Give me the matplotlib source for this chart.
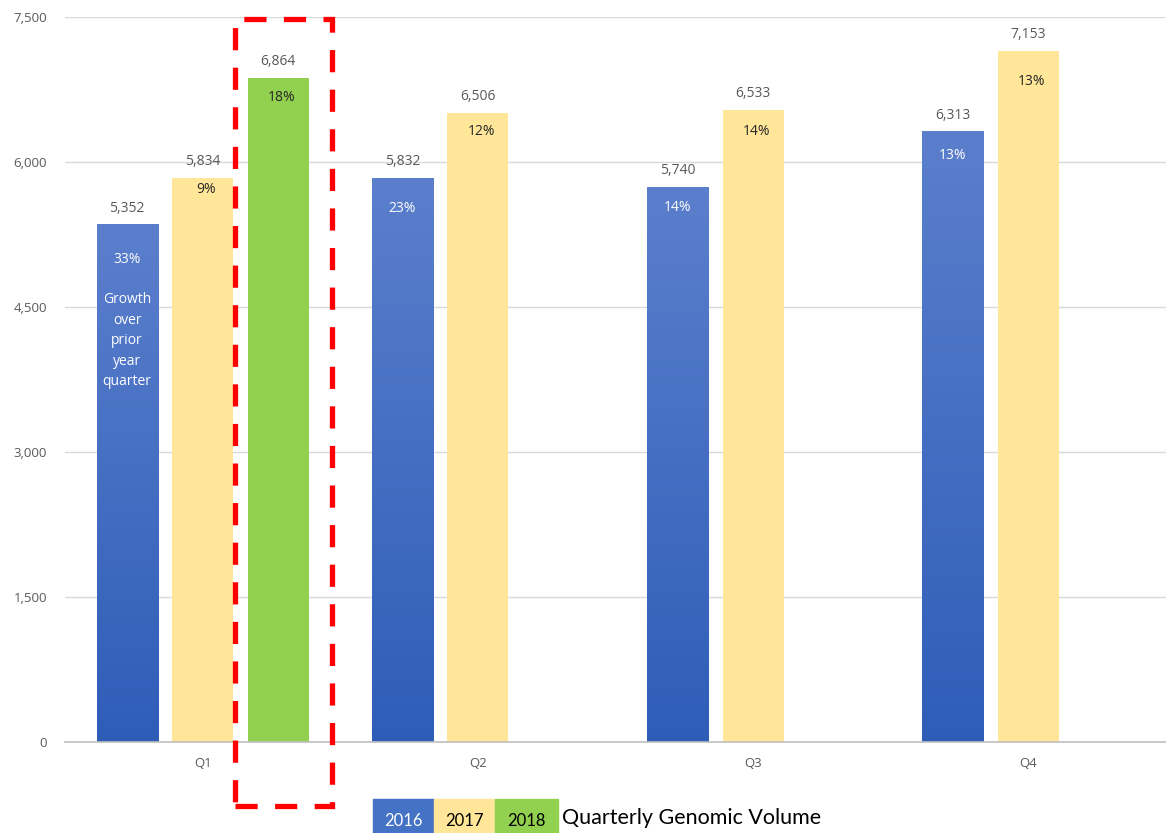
import numpy as np
import matplotlib.pyplot as plt
from matplotlib.patches import Rectangle
from matplotlib.colors import LinearSegmentedColormap

quarters = ["Q1", "Q2", "Q3", "Q4"]
years = ["2016", "2017", "2018"]
volume_2016 = [5352, 5832, 5740, 6313]
volume_2017 = [5834, 6506, 6533, 7153]
volume_2018 = [6864, None, None, None]
growth_2016 = ["33%", "23%", "14%", "13%"]
growth_2017 = ["9%", "12%", "14%", "13%"]
growth_2018 = ["18%", None, None, None]
yticks = [0, 1500, 3000, 4500, 6000, 7500]

BLUE_TOP = "#5B7FCC"
BLUE_BOTTOM = "#2E5DB8"
YELLOW = "#FFE699"
GREEN = "#92D050"
GREY_TEXT = "#595959"

plt.rcParams['font.family'] = ['Open Sans', 'DejaVu Sans']

fig = plt.figure(figsize=(11.66, 8.33), dpi=100)
ax = fig.add_axes([65 / 1166, 91 / 833, 1101 / 1166, 725 / 833])

width = 0.222
step = 0.2745
x = np.arange(len(quarters))

blue_cmap = LinearSegmentedColormap.from_list("blue", [BLUE_BOTTOM, BLUE_TOP])
grad = np.linspace(0, 1, 256).reshape(-1, 1)

series = [
    (volume_2016, growth_2016, None, "white", -step),
    (volume_2017, growth_2017, YELLOW, "#262626", 0.0),
    (volume_2018, growth_2018, GREEN, "#262626", step),
]
# per-label drop below bar top, in points
pct_drop = [
    [25, 22, 15, 17],
    [8, 13, 15, 22],
    [14, None, None, None],
]

for si, (vals, pcts, color, pct_color, off) in enumerate(series):
    for qi, v in enumerate(vals):
        if v is None:
            continue
        xc = x[qi] + off
        x0, x1 = xc - width / 2, xc + width / 2
        if color is None:
            ax.imshow(grad, cmap=blue_cmap, origin="lower", aspect="auto",
                      extent=(x0, x1, 0, v), zorder=2, interpolation="bilinear")
        else:
            ax.bar(xc, v, width=width, color=color, zorder=2)
        ax.annotate(f"{v:,}", (xc, v), xytext=(0, 6.5), textcoords="offset points",
                    ha="center", va="bottom", fontsize=10, color=GREY_TEXT)
        ax.annotate(pcts[qi], (xc + (0.012 if si > 0 else 0), v),
                    xytext=(0, -pct_drop[si][qi]), textcoords="offset points",
                    ha="center", va="center", fontsize=10, color=pct_color)

ax.text(x[0] - step, 4150, "Growth\nover\nprior\nyear\nquarter", ha="center",
        va="center", fontsize=10, color="white", linespacing=1.5, zorder=3)

ax.set_xlim(-0.5, 3.5)
ax.set_ylim(0, 7500)
ax.set_xticks(x)
ax.set_xticklabels(quarters)
ax.set_yticks(yticks)
ax.set_yticklabels([f"{t:,}" for t in yticks])
ax.tick_params(length=0, labelsize=9.5, colors=GREY_TEXT)
ax.tick_params(axis="y", pad=13)
ax.tick_params(axis="x", pad=11)
ax.grid(axis="y", color="#D9D9D9", linewidth=1, zorder=0)
for side in ["top", "right", "left"]:
    ax.spines[side].set_visible(False)
ax.spines["bottom"].set_color("#BFBFBF")
ax.spines["bottom"].set_linewidth(1.2)
ax.set_axisbelow(True)

# dashed frame around the 2018 bar
frame = Rectangle((x[0] + 0.118, -662), 0.352, 8141, fill=False,
                  edgecolor="#FF0000", linewidth=3.8, linestyle=(0, (4.2, 3.3)),
                  clip_on=False, zorder=5)
ax.add_patch(frame)

# legend strip at the bottom
box_colors = ["#4472C4", YELLOW, GREEN]
box_text = ["white", "black", "black"]
box_left = [373, 434, 495]
box_w = [61, 61, 63]
for yr, c, tc, bx, bw in zip(years, box_colors, box_text, box_left, box_w):
    fig.patches.append(Rectangle((bx / 1166, 0), bw / 1166, 34 / 833,
                                 transform=fig.transFigure, color=c, zorder=1))
    fig.text((bx + bw / 2) / 1166, 12 / 833, yr, ha="center", va="center",
             fontsize=12, color=tc, family=["Lato", "DejaVu Sans"])
fig.text(562 / 1166, 15 / 833, "Quarterly Genomic Volume", ha="left",
         va="center", fontsize=15.5, color="black", family=["Lato", "DejaVu Sans"])

fig.savefig("out.png", dpi=100)
